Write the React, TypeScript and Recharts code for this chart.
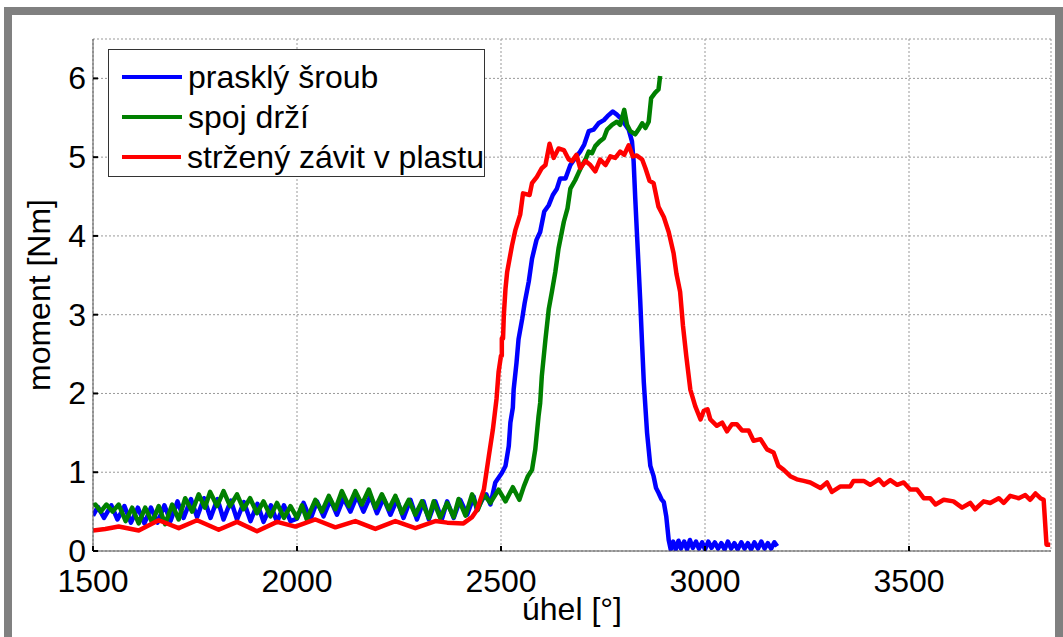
import React from 'react';
import { LineChart, Line, XAxis, YAxis, CartesianGrid, Label } from 'recharts';

const FONT = '"Liberation Sans", Arial, Helvetica, sans-serif';

// axis ticks
const xTicks = [1500, 2000, 2500, 3000, 3500];
const yTicks = [0, 1, 2, 3, 4, 5, 6];

// [úhel, moment] pairs
const prasklySroub: [number, number][] = [
  [1500, 0.45], [1512, 0.56], [1527, 0.42], [1545, 0.58], [1560, 0.40], [1577, 0.57], [1593, 0.36],
  [1610, 0.55], [1626, 0.35], [1642, 0.55], [1658, 0.36], [1675, 0.58], [1690, 0.38], [1707, 0.63],
  [1722, 0.42], [1740, 0.66], [1755, 0.43], [1772, 0.67], [1788, 0.42], [1805, 0.66], [1820, 0.40],
  [1838, 0.64], [1853, 0.40], [1870, 0.62], [1886, 0.38], [1903, 0.60], [1918, 0.37], [1936, 0.58],
  [1951, 0.37], [1968, 0.58], [1984, 0.38], [2000, 0.41], [2016, 0.61], [2033, 0.40], [2049, 0.63],
  [2065, 0.44], [2082, 0.65], [2098, 0.46], [2114, 0.67], [2131, 0.50], [2147, 0.70], [2163, 0.50],
  [2180, 0.70], [2196, 0.48], [2212, 0.67], [2229, 0.46], [2245, 0.65], [2261, 0.42], [2278, 0.65],
  [2294, 0.40], [2310, 0.63], [2323, 0.40], [2339, 0.63], [2355, 0.40], [2368, 0.63], [2384, 0.42],
  [2400, 0.65], [2417, 0.46], [2433, 0.69], [2441, 0.52], [2455, 0.66], [2464, 0.72], [2474, 0.59],
  [2486, 0.87], [2502, 0.99], [2511, 1.08], [2519, 1.33], [2523, 1.63], [2529, 1.82], [2531, 2.05],
  [2538, 2.39], [2543, 2.69], [2552, 2.95], [2558, 3.15], [2568, 3.42], [2576, 3.71], [2587, 3.95],
  [2596, 4.05], [2606, 4.31], [2617, 4.39], [2627, 4.52], [2637, 4.60], [2645, 4.73], [2658, 4.73],
  [2670, 4.90], [2682, 4.99], [2694, 5.07], [2704, 5.16], [2715, 5.33], [2727, 5.35], [2739, 5.43],
  [2752, 5.47], [2761, 5.52], [2774, 5.58], [2784, 5.54], [2792, 5.50], [2802, 5.43], [2813, 5.35],
  [2821, 5.20], [2825, 4.95], [2829, 4.48], [2833, 4.05], [2837, 3.63], [2841, 3.20], [2846, 2.60],
  [2850, 2.14], [2858, 1.50], [2866, 1.08], [2874, 0.95], [2880, 0.80], [2886, 0.74], [2893, 0.66],
  [2899, 0.62], [2905, 0.44], [2911, 0.14], [2916, 0.02], [2922, 0.12], [2928, 0.02], [2935, 0.13],
  [2941, 0.03], [2949, 0.12], [2956, 0.02], [2963, 0.14], [2970, 0.04], [2978, 0.12], [2985, 0.03],
  [2993, 0.11], [3000, 0.02], [3008, 0.12], [3016, 0.04], [3024, 0.11], [3032, 0.03], [3040, 0.10],
  [3048, 0.02], [3056, 0.12], [3064, 0.03], [3072, 0.10], [3080, 0.02], [3089, 0.11], [3097, 0.03],
  [3105, 0.10], [3113, 0.02], [3121, 0.11], [3130, 0.03], [3138, 0.12], [3146, 0.03], [3154, 0.10],
  [3162, 0.03], [3170, 0.11], [3177, 0.06],
];

const spojDrzi: [number, number][] = [
  [1500, 0.58], [1506, 0.59], [1519, 0.50], [1533, 0.59], [1548, 0.50], [1563, 0.59], [1580, 0.38],
  [1596, 0.55], [1612, 0.35], [1628, 0.55], [1645, 0.36], [1661, 0.57], [1677, 0.34], [1694, 0.59],
  [1710, 0.40], [1726, 0.67], [1743, 0.50], [1759, 0.72], [1774, 0.55], [1787, 0.75], [1804, 0.57],
  [1820, 0.76], [1836, 0.57], [1853, 0.72], [1869, 0.53], [1885, 0.67], [1902, 0.48], [1918, 0.63],
  [1935, 0.44], [1951, 0.61], [1968, 0.42], [1984, 0.57], [2000, 0.42], [2012, 0.58], [2024, 0.40],
  [2045, 0.65], [2061, 0.50], [2078, 0.70], [2094, 0.53], [2110, 0.76], [2127, 0.57], [2143, 0.76],
  [2159, 0.59], [2176, 0.78], [2192, 0.55], [2208, 0.72], [2225, 0.53], [2241, 0.70], [2257, 0.48],
  [2274, 0.65], [2290, 0.46], [2306, 0.63], [2323, 0.42], [2335, 0.63], [2351, 0.42], [2368, 0.61],
  [2384, 0.43], [2396, 0.66], [2413, 0.45], [2429, 0.72], [2443, 0.52], [2458, 0.72], [2474, 0.61],
  [2494, 0.78], [2511, 0.63], [2529, 0.81], [2545, 0.65], [2556, 0.82], [2566, 0.95], [2576, 1.03],
  [2584, 1.29], [2592, 1.71], [2596, 1.88], [2600, 2.22], [2609, 2.69], [2617, 3.07], [2625, 3.30],
  [2633, 3.54], [2641, 3.84], [2654, 4.18], [2663, 4.35], [2670, 4.60], [2682, 4.71], [2690, 4.80],
  [2699, 4.90], [2707, 4.97], [2715, 5.07], [2723, 5.05], [2731, 5.14], [2742, 5.20], [2752, 5.24],
  [2760, 5.35], [2772, 5.41], [2784, 5.45], [2792, 5.41], [2802, 5.60], [2809, 5.41], [2817, 5.33],
  [2829, 5.29], [2837, 5.35], [2846, 5.43], [2854, 5.37], [2862, 5.45], [2868, 5.75], [2878, 5.82],
  [2886, 5.86], [2890, 6.03],
];

const strzenyZavit: [number, number][] = [
  [1500, 0.26], [1530, 0.28], [1563, 0.31], [1612, 0.26], [1661, 0.39], [1710, 0.29], [1755, 0.39],
  [1808, 0.27], [1853, 0.37], [1902, 0.25], [1951, 0.37], [1996, 0.31], [2045, 0.40], [2094, 0.30],
  [2143, 0.38], [2192, 0.28], [2241, 0.38], [2290, 0.29], [2339, 0.38], [2368, 0.36], [2408, 0.35],
  [2429, 0.43], [2441, 0.52], [2458, 0.78], [2470, 1.20], [2480, 1.54], [2489, 1.93], [2494, 2.27],
  [2500, 2.48], [2502, 2.48], [2502, 2.70], [2505, 2.70], [2507, 3.00], [2511, 3.33], [2515, 3.54],
  [2527, 3.88], [2535, 4.07], [2547, 4.27], [2554, 4.54], [2570, 4.52], [2576, 4.67], [2588, 4.75],
  [2600, 4.86], [2609, 4.90], [2619, 5.17], [2629, 4.99], [2641, 5.11], [2654, 5.09], [2666, 4.97],
  [2674, 4.95], [2685, 5.03], [2694, 4.86], [2707, 4.95], [2719, 4.90], [2731, 4.82], [2743, 4.97],
  [2756, 4.90], [2768, 5.01], [2780, 4.99], [2792, 5.07], [2802, 5.03], [2813, 5.15], [2823, 5.01],
  [2833, 5.02], [2846, 4.97], [2854, 4.86], [2864, 4.70], [2874, 4.67], [2886, 4.37], [2899, 4.24],
  [2911, 4.05], [2923, 3.78], [2930, 3.52], [2939, 3.29], [2946, 2.86], [2954, 2.48], [2964, 2.05],
  [2976, 1.84], [2989, 1.67], [2997, 1.78], [3006, 1.80], [3013, 1.67], [3029, 1.59], [3042, 1.63],
  [3054, 1.52], [3066, 1.61], [3078, 1.61], [3091, 1.53], [3107, 1.53], [3119, 1.40], [3136, 1.42],
  [3152, 1.29], [3168, 1.25], [3180, 1.08], [3193, 1.03], [3209, 0.95], [3225, 0.91], [3242, 0.89],
  [3258, 0.87], [3283, 0.80], [3299, 0.87], [3311, 0.75], [3332, 0.82], [3356, 0.82], [3364, 0.89],
  [3389, 0.89], [3405, 0.84], [3426, 0.91], [3438, 0.84], [3454, 0.90], [3471, 0.84], [3487, 0.87],
  [3503, 0.78], [3520, 0.78], [3536, 0.67], [3552, 0.67], [3565, 0.59], [3585, 0.65], [3609, 0.63],
  [3630, 0.55], [3650, 0.61], [3662, 0.53], [3683, 0.63], [3699, 0.61], [3720, 0.67], [3732, 0.61],
  [3748, 0.70], [3769, 0.67], [3785, 0.71], [3797, 0.65], [3810, 0.73], [3822, 0.67], [3830, 0.65],
  [3837, 0.08], [3846, 0.08],
];

const series = [
  { name: 'prasklý šroub', color: '#0000ff', points: prasklySroub },
  { name: 'spoj drží', color: '#008000', points: spojDrzi },
  { name: 'stržený závit v plastu', color: '#ff0000', points: strzenyZavit },
];

const AXIS = '#555';

// MATLAB-style inward tick marks
const BottomTick = ({ x, y, payload }: any) => (
  <g>
    <line x1={x} y1={y} x2={x} y2={y - 5} stroke="#000" strokeWidth={2} />
    <text x={x} y={y + 41} textAnchor="middle" fontSize={32} fontFamily={FONT} fill="#000">
      {payload.value}
    </text>
  </g>
);
const TopTick = ({ x, y }: any) => <line x1={x} y1={y} x2={x} y2={y + 5} stroke="#000" strokeWidth={2} />;
const LeftTick = ({ x, y, payload }: any) => (
  <g>
    <line x1={x} y1={y} x2={x + 5} y2={y} stroke="#000" strokeWidth={2} />
    <text x={x - 7} y={y + 11} textAnchor="end" fontSize={32} fontFamily={FONT} fill="#000">
      {payload.value}
    </text>
  </g>
);
const RightTick = ({ x, y }: any) => <line x1={x} y1={y} x2={x - 5} y2={y} stroke="#000" strokeWidth={2} />;

export default function App() {
  return (
    <div style={{ position: 'absolute', left: 0, top: 0, width: 1063, height: 637, overflow: 'hidden', background: '#fff' }}>
      {/* grey figure frame */}
      <div
        style={{
          position: 'absolute', left: 4, top: 7, width: 1059, height: 660, boxSizing: 'border-box',
          borderLeft: '8px solid #808080', borderTop: '8px solid #808080', borderRight: '8px solid #808080',
        }}
      />
      <div style={{ position: 'absolute', left: 0, top: 0 }}>
        <LineChart width={1063} height={637} margin={{ top: 39, right: 12, bottom: 0, left: 0 }}>
          <CartesianGrid stroke="#999" strokeDasharray="2 2" />
          <XAxis
            type="number" dataKey="x" domain={[1500, 3848]} ticks={xTicks} allowDataOverflow
            height={86} tickSize={0} tickMargin={0} tickLine={false} tick={<BottomTick />}
            axisLine={{ stroke: AXIS }}
          >
            <Label
              content={() => (
                <text x={572} y={620} textAnchor="middle" fontSize={32} fontFamily={FONT} fill="#000">
                  úhel [°]
                </text>
              )}
            />
          </XAxis>
          <XAxis
            xAxisId="top" orientation="top" type="number" domain={[1500, 3848]} ticks={xTicks} allowDataOverflow
            height={0} tickSize={0} tickMargin={0} tickLine={false} tick={<TopTick />} axisLine={{ stroke: AXIS }}
          />
          <YAxis
            type="number" domain={[0, 6.5]} ticks={yTicks} allowDataOverflow width={93}
            tickSize={0} tickMargin={0} tickLine={false} tick={<LeftTick />} axisLine={{ stroke: AXIS }}
          >
            <Label
              content={() => (
                <text x={50} y={295} transform="rotate(-90 50 295)" textAnchor="middle" fontSize={32} fontFamily={FONT} fill="#000">
                  moment [Nm]
                </text>
              )}
            />
          </YAxis>
          <YAxis
            yAxisId="right" orientation="right" type="number" domain={[0, 6.5]} ticks={yTicks} allowDataOverflow
            width={0} tickSize={0} tickMargin={0} tickLine={false} tick={<RightTick />} axisLine={{ stroke: AXIS }}
          />
          {series.map((s) => (
            <Line
              key={s.name}
              data={s.points.map(([x, y]) => ({ x, y }))}
              dataKey="y"
              type="linear"
              stroke={s.color}
              strokeWidth={4.5}
              strokeLinejoin="round"
              dot={false}
              isAnimationActive={false}
              name={s.name}
            />
          ))}
        </LineChart>
      </div>
      {/* legend */}
      <div
        style={{
          position: 'absolute', left: 108, top: 49, width: 377, height: 128, boxSizing: 'border-box',
          border: '1px solid #333', background: '#fff', paddingTop: 7,
        }}
      >
        {series.map((s) => (
          <div key={s.name} style={{ display: 'flex', alignItems: 'center', height: 40 }}>
            <div style={{ width: 60, height: 4, background: s.color, marginLeft: 13 }} />
            <span style={{ marginLeft: 6, fontSize: 32, fontFamily: FONT, color: '#000', lineHeight: '40px', whiteSpace: 'nowrap' }}>
              {s.name}
            </span>
          </div>
        ))}
      </div>
    </div>
  );
}
